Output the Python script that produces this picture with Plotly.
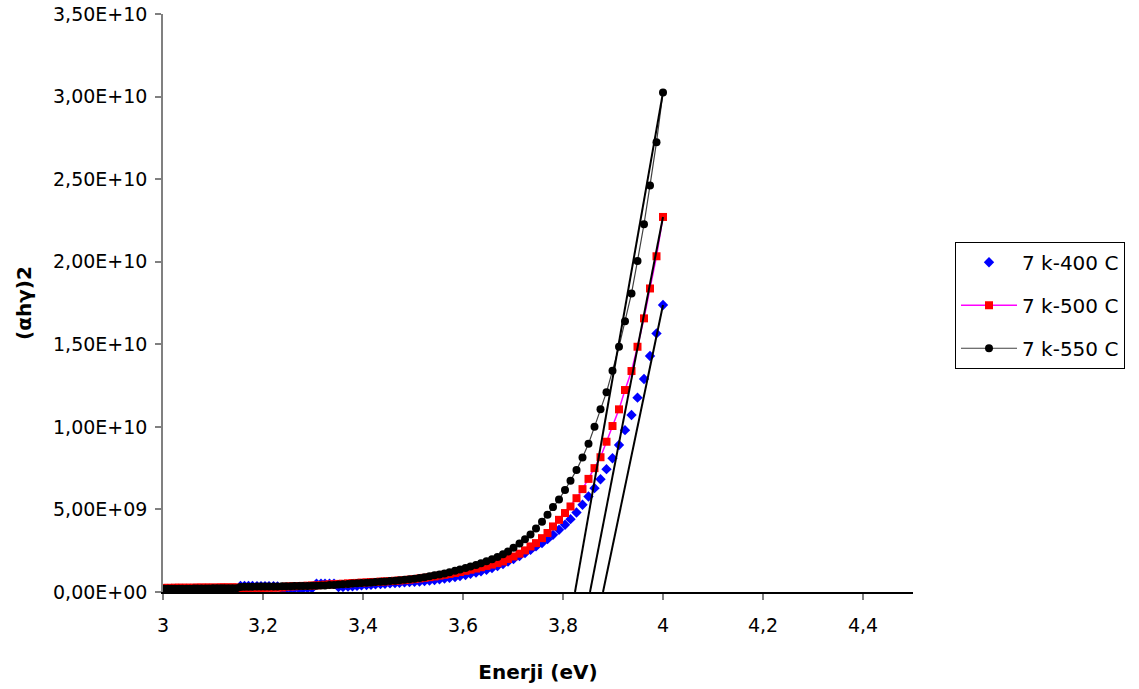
import plotly.graph_objects as go

# Photon energy (eV), ascending
energy = [3.002, 3.010, 3.017, 3.024, 3.032, 3.039, 3.047, 3.054, 3.062, 3.069,
          3.077, 3.085, 3.092, 3.100, 3.108, 3.116, 3.123, 3.131, 3.139, 3.147,
          3.155, 3.163, 3.171, 3.179, 3.188, 3.196, 3.204, 3.212, 3.221, 3.229,
          3.238, 3.246, 3.255, 3.263, 3.272, 3.280, 3.289, 3.298, 3.307, 3.316,
          3.324, 3.333, 3.342, 3.351, 3.360, 3.370, 3.379, 3.388, 3.397, 3.407,
          3.416, 3.425, 3.435, 3.444, 3.454, 3.464, 3.473, 3.483, 3.493, 3.503,
          3.513, 3.523, 3.533, 3.543, 3.553, 3.563, 3.573, 3.584, 3.594, 3.605,
          3.615, 3.626, 3.636, 3.647, 3.658, 3.669, 3.680, 3.690, 3.701, 3.713,
          3.724, 3.735, 3.746, 3.758, 3.769, 3.780, 3.792, 3.804, 3.815, 3.827,
          3.839, 3.851, 3.863, 3.875, 3.887, 3.899, 3.912, 3.924, 3.937, 3.949,
          3.962, 3.974, 3.987, 4.000]

# (alpha h nu)^2 in units of 1e9
s400 = [0.10, 0.10, 0.10, 0.11, 0.11, 0.11, 0.11, 0.11, 0.12, 0.12,
        0.12, 0.12, 0.12, 0.12, 0.13, 0.13, 0.13, 0.13, 0.13, 0.14,
        0.36, 0.36, 0.36, 0.36, 0.35, 0.35, 0.35, 0.35, 0.35, 0.34,
        0.20, 0.20, 0.20, 0.21, 0.21, 0.21, 0.22, 0.22, 0.50, 0.50,
        0.50, 0.50, 0.51, 0.30, 0.31, 0.33, 0.35, 0.37, 0.40, 0.42,
        0.44, 0.46, 0.48, 0.50, 0.52, 0.54, 0.56, 0.58, 0.60, 0.62,
        0.64, 0.67, 0.70, 0.73, 0.77, 0.81, 0.86, 0.91, 0.97, 1.03,
        1.10, 1.18, 1.26, 1.35, 1.45, 1.57, 1.70, 1.84, 2.00, 2.18,
        2.36, 2.55, 2.76, 2.96, 3.20, 3.46, 3.77, 4.07, 4.41, 4.81,
        5.28, 5.78, 6.29, 6.83, 7.44, 8.10, 8.90, 9.80, 10.72, 11.77,
        12.90, 14.29, 15.66, 17.38]

s500 = [0.25, 0.25, 0.25, 0.26, 0.26, 0.26, 0.26, 0.26, 0.26, 0.27,
        0.27, 0.27, 0.27, 0.27, 0.27, 0.28, 0.28, 0.28, 0.28, 0.28,
        0.24, 0.24, 0.25, 0.25, 0.25, 0.25, 0.26, 0.26, 0.26, 0.27,
        0.27, 0.33, 0.34, 0.35, 0.36, 0.37, 0.38, 0.39, 0.40, 0.42,
        0.44, 0.46, 0.47, 0.49, 0.50, 0.52, 0.54, 0.55, 0.57, 0.58,
        0.60, 0.61, 0.63, 0.64, 0.66, 0.68, 0.70, 0.72, 0.75, 0.78,
        0.82, 0.86, 0.90, 0.94, 0.99, 1.04, 1.09, 1.15, 1.21, 1.28,
        1.35, 1.42, 1.50, 1.58, 1.66, 1.75, 1.85, 2.00, 2.15, 2.32,
        2.52, 2.76, 2.96, 3.26, 3.57, 3.97, 4.37, 4.78, 5.18, 5.68,
        6.23, 6.85, 7.50, 8.16, 9.10, 10.05, 11.06, 12.23, 13.38, 14.85,
        16.57, 18.38, 20.33, 22.71]

s550 = [0.19, 0.19, 0.20, 0.20, 0.20, 0.20, 0.20, 0.20, 0.21, 0.21,
        0.21, 0.21, 0.21, 0.22, 0.22, 0.22, 0.22, 0.22, 0.23, 0.23,
        0.31, 0.32, 0.32, 0.32, 0.33, 0.33, 0.33, 0.34, 0.34, 0.34,
        0.35, 0.35, 0.35, 0.36, 0.36, 0.37, 0.37, 0.38, 0.38, 0.39,
        0.40, 0.42, 0.43, 0.45, 0.47, 0.49, 0.51, 0.53, 0.55, 0.56,
        0.58, 0.60, 0.62, 0.64, 0.66, 0.68, 0.71, 0.74, 0.77, 0.80,
        0.85, 0.90, 0.96, 1.01, 1.06, 1.12, 1.20, 1.28, 1.36, 1.45,
        1.54, 1.64, 1.74, 1.86, 1.98, 2.12, 2.28, 2.45, 2.68, 2.94,
        3.20, 3.48, 3.85, 4.26, 4.68, 5.14, 5.60, 6.18, 6.74, 7.38,
        8.14, 8.98, 10.00, 11.06, 12.10, 13.40, 14.85, 16.40, 18.08, 20.05,
        22.27, 24.62, 27.24, 30.25]

# Linear extrapolation lines (energy, value in 1e9)
fit400_x = [3.880, 4.000]
fit400_y = [0.0, 17.38]
fit500_x = [3.854, 4.000]
fit500_y = [0.0, 22.71]
fit550_x = [3.824, 4.000]
fit550_y = [0.0, 30.25]

labels = ["7 k-400 C", "7 k-500 C", "7 k-550 C"]

x_ticks = [3.0, 3.2, 3.4, 3.6, 3.8, 4.0, 4.2, 4.4]
x_ticktext = ["3", "3,2", "3,4", "3,6", "3,8", "4", "4,2", "4,4"]
y_ticks = [0, 5e9, 1e10, 1.5e10, 2e10, 2.5e10, 3e10, 3.5e10]
y_ticktext = ["0,00E+00", "5,00E+09", "1,00E+10", "1,50E+10",
              "2,00E+10", "2,50E+10", "3,00E+10", "3,50E+10"]

FONT = "DejaVu Sans, Arial, sans-serif"
scale = 1e9

fig = go.Figure()
fig.add_trace(go.Scatter(
    x=energy, y=[v * scale for v in s400], mode="markers", name=labels[0],
    legendgroup="a",
    marker=dict(symbol="diamond", size=8, color="#0000FF", line=dict(width=0))))
fig.add_trace(go.Scatter(
    x=energy, y=[v * scale for v in s500], mode="lines+markers", name=labels[1],
    legendgroup="b",
    line=dict(color="#FF00FF", width=1.5),
    marker=dict(symbol="square", size=8, color="#FF0000", line=dict(width=0))))
fig.add_trace(go.Scatter(
    x=energy, y=[v * scale for v in s550], mode="lines+markers", name=labels[2],
    legendgroup="c",
    line=dict(color="#404040", width=1.2),
    marker=dict(symbol="circle", size=8, color="#000000", line=dict(width=0))))

for fx, fy in [(fit400_x, fit400_y), (fit500_x, fit500_y), (fit550_x, fit550_y)]:
    fig.add_trace(go.Scatter(
        x=fx, y=[v * scale for v in fy], mode="lines", showlegend=False,
        line=dict(color="#000000", width=2), hoverinfo="skip"))

fig.update_layout(
    width=1139, height=689,
    margin=dict(l=163, r=226, t=14, b=97, autoexpand=False),
    paper_bgcolor="white", plot_bgcolor="white",
    font=dict(family=FONT, size=19, color="#000000"),
    separators=",.",
    showlegend=True,
    legend=dict(
        x=1.056, y=0.606, xanchor="left", yanchor="top",
        bordercolor="#000000", borderwidth=1, bgcolor="white",
        font=dict(family=FONT, size=20, color="#000000"),
        tracegroupgap=14, itemwidth=56, traceorder="grouped"),
    xaxis=dict(
        range=[3.0, 4.5], tickvals=x_ticks, ticktext=x_ticktext,
        showgrid=False, zeroline=False, automargin=False,
        showline=True, linecolor="#000000", linewidth=1.5,
        ticks="outside", ticklen=6, tickcolor="#808080", tickwidth=1.5,
        ticklabelstandoff=9,
        tickfont=dict(family=FONT, size=19),
        title=dict(text="<b>Enerji (eV)</b>", standoff=30,
                   font=dict(family=FONT, size=20))),
    yaxis=dict(
        range=[0, 3.5e10], tickvals=y_ticks, ticktext=y_ticktext,
        showgrid=False, zeroline=False, automargin=False,
        showline=True, linecolor="#808080", linewidth=1.5,
        ticks="outside", ticklen=6, tickcolor="#808080", tickwidth=1.5,
        ticklabelstandoff=4,
        tickfont=dict(family=FONT, size=19),
        title=dict(text="<b>(αhγ)2</b>", standoff=16,
                   font=dict(family=FONT, size=20))),
)

fig.write_html("out.html")
